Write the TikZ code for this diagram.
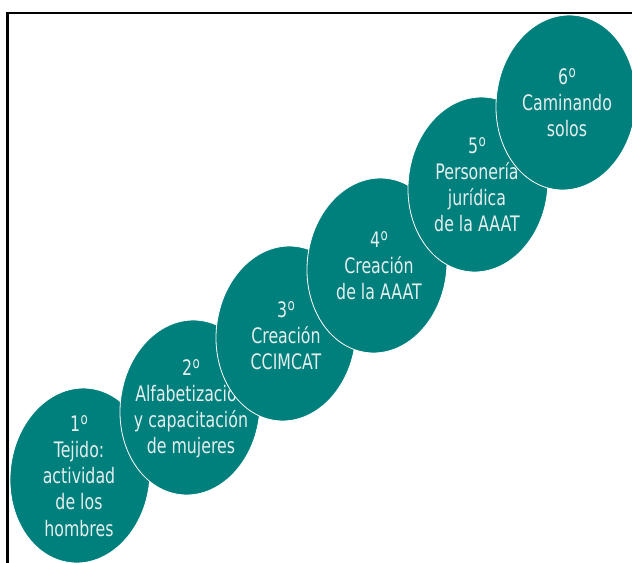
\documentclass[tikz,border=0pt]{standalone}
\usepackage{fontspec}
\setmainfont[FakeStretch=0.74]{DejaVu Sans}
\usetikzlibrary{shapes.geometric}
\definecolor{tealfill}{RGB}{0,128,125}
\definecolor{txtcol}{RGB}{228,238,238}
\newcommand{\ordmark}{\kern0.5pt\raisebox{5.1pt}{\fontsize{12pt}{12pt}\selectfont o}}
\tikzset{
  stepoval/.style={ellipse, fill=tealfill, draw=white, line width=0.6pt,
    minimum width=104.7pt, minimum height=131.5pt, inner sep=0pt, rotate=-6},
  steptext/.style={align=center, text=txtcol, inner sep=0pt,
    font=\fontsize{16pt}{19.6pt}\selectfont},
  frameline/.style={draw=black, line width=1.9pt}
}
\begin{document}
\begin{tikzpicture}[x=0.75pt, y=-0.75pt]
\clip (0,0) rectangle (632,562);
\coordinate (fa) at (7.5,570);
\coordinate (fb) at (7.5,13);
\coordinate (fc) at (640,13);
\draw[frameline] (fa) -- (fb) -- (fc);

\node[stepoval] (e1) at (80,475.5) {};
\node[steptext] (t1) at (79,476) {1\ordmark\\Tejido:\\actividad\\de los\\hombres};

\node[stepoval] (e2) at (190,407.5) {};
\node[steptext] (t2) at (191,409) {2\ordmark\\Alfabetización\\y capacitación\\de mujeres};

\node[stepoval] (e3) at (286,333.5) {};
\node[steptext] (t3) at (286,336) {3\ordmark\\Creación\\CCIMCAT};

\node[stepoval] (e4) at (377,265.5) {};
\node[steptext] (t4) at (379,266) {4\ordmark\\Creación\\de la AAAT};

\node[stepoval] (e5) at (478,184.5) {};
\node[steptext] (t5) at (477,185) {5\ordmark\\Personería\\jurídica\\de la AAAT};

\node[stepoval] (e6) at (566,102.5) {};
\node[steptext] (t6) at (567,103) {6\ordmark\\Caminando\\solos};
\end{tikzpicture}
\end{document}
